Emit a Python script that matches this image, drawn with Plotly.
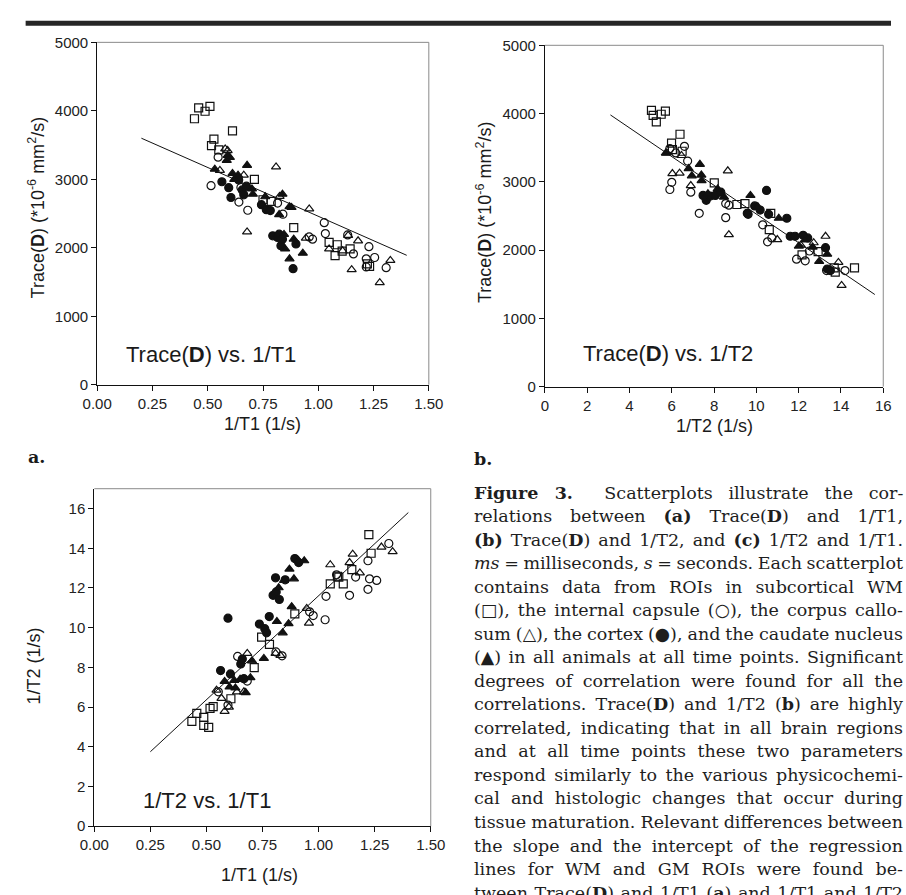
import json
import plotly.graph_objects as go

W, H = 906, 895

# ---------------- panel a: Trace(D) vs 1/T1 ----------------
a_wm_x = [0.440, 0.459, 0.488, 0.510, 0.612, 0.528, 0.517, 0.550, 0.711, 0.750, 0.787, 0.889,
          1.049, 1.086, 1.076, 1.144, 1.108, 1.232, 1.222]
a_wm_y = [3884, 4042, 3994, 4066, 3707, 3587, 3491, 3429, 2998, 2701, 2677, 2294,
          2078, 2044, 1886, 1983, 1950, 1729, 1765]
a_ic_x = [0.515, 0.547, 0.641, 0.681, 0.816, 0.840, 1.027, 1.032, 0.959, 0.974, 1.159, 1.133,
          1.229, 1.255, 1.217, 1.217, 1.307, 0.650]
a_ic_y = [2907, 3323, 2668, 2548, 2653, 2490, 2366, 2208, 2159, 2126, 1911, 2188,
          2016, 1858, 1839, 1719, 1710, 2880]
a_cc_x = [0.555, 0.579, 0.590, 0.663, 0.809, 0.678, 0.825, 0.959, 0.944, 1.049, 1.180, 1.151,
          1.278, 1.326, 1.110, 1.135]
a_cc_y = [3130, 3443, 3420, 3060, 3180, 2232, 2750, 2567, 2141, 1983, 2102, 1681,
          1490, 1815, 1955, 2180]
a_cx_x = [0.564, 0.595, 0.605, 0.656, 0.663, 0.743, 0.765, 0.783, 0.794, 0.816, 0.831, 0.823,
          0.838, 0.899, 0.886, 0.640, 0.675]
a_cx_y = [2964, 2878, 2734, 2845, 2773, 2629, 2557, 2543, 2174, 2150, 2030, 2198,
          2126, 2055, 1695, 2990, 2900]
a_cn_x = [0.532, 0.586, 0.600, 0.612, 0.637, 0.678, 0.704, 0.760, 0.823, 0.838, 0.879, 0.870,
          0.845, 0.850, 0.870, 0.930, 0.889, 0.590, 0.620, 0.700]
a_cn_y = [3147, 3276, 3320, 3085, 3060, 3204, 2783, 2745, 2485, 2783, 2590, 2600,
          2195, 1983, 1839, 1921, 2126, 3348, 3000, 2860]
a_fit_x = [0.20, 1.40]
a_fit_y = [3600, 1890]

# ---------------- panel b: Trace(D) vs 1/T2 ----------------
b_wm_x = [5.04, 5.12, 5.27, 5.50, 5.70, 6.39, 5.99, 6.03, 6.49, 8.01, 9.08, 9.46,
          10.68, 10.61, 12.92, 12.16, 13.68, 14.64, 13.73]
b_wm_y = [4047, 3975, 3879, 3990, 4037, 3697, 3568, 3472, 3448, 2984, 2668, 2682,
          2539, 2299, 1978, 1930, 1739, 1739, 1677]
b_ic_x = [6.60, 6.75, 6.00, 5.91, 6.90, 7.30, 8.55, 8.55, 8.70, 5.91, 6.19, 10.30,
          10.73, 10.53, 11.90, 12.31, 13.32, 14.19, 12.51]
b_ic_y = [3520, 3305, 2993, 2888, 2849, 2539, 2476, 2682, 2658, 3487, 3424, 2371,
          2179, 2122, 1868, 1844, 1700, 1700, 1987]
b_cc_x = [5.77, 6.03, 6.37, 6.90, 8.65, 8.70, 6.46, 10.99, 13.27, 13.88, 14.03, 12.71, 12.10]
b_cc_y = [3424, 3122, 3128, 2945, 3161, 2227, 3386, 2155, 2203, 1820, 1484, 2108, 2073]
b_cx_x = [7.63, 7.82, 8.06, 8.32, 9.57, 7.48, 10.48, 9.61, 9.92, 10.18, 10.58, 11.44,
          11.60, 11.83, 12.43, 12.21, 13.27, 13.35, 13.50]
b_cx_y = [2730, 2792, 2802, 2849, 2539, 2802, 2874, 2524, 2648, 2586, 2524, 2467,
          2203, 2203, 2179, 2217, 2036, 1724, 1700]
b_cn_x = [6.80, 7.33, 7.41, 6.95, 7.71, 8.17, 8.47, 9.72, 11.06, 12.01, 12.66, 12.97,
          13.35, 10.07, 5.72, 7.40, 12.30]
b_cn_y = [3194, 3257, 3017, 3089, 2826, 2897, 2777, 2802, 2467, 2059, 2045, 1835,
          1940, 2634, 3421, 3100, 2150]
b_fit_x = [3.1, 15.6]
b_fit_y = [3980, 1350]

# ---------------- panel c: 1/T2 vs 1/T1 ----------------
c_wm_x = [0.435, 0.457, 0.488, 0.488, 0.510, 0.516, 0.530, 0.609, 0.713, 0.746, 0.781, 0.894,
          1.052, 1.084, 1.110, 1.148, 1.224, 1.234, 1.090]
c_wm_y = [5.28, 5.68, 5.48, 5.08, 4.98, 5.93, 6.02, 6.42, 7.99, 9.52, 9.16, 10.69,
          12.21, 12.59, 12.21, 12.92, 14.69, 13.75, 12.55]
c_ic_x = [0.639, 0.682, 0.596, 0.810, 0.837, 0.976, 1.033, 1.029, 1.138, 1.165, 1.220, 1.220,
          1.227, 1.259, 1.313, 1.080, 0.553, 0.960]
c_ic_y = [8.55, 7.31, 6.10, 8.78, 8.58, 10.61, 11.58, 10.40, 11.63, 12.55, 13.37, 11.93,
          12.46, 12.38, 14.24, 12.66, 6.77, 10.80]
c_cc_x = [0.545, 0.567, 0.581, 0.636, 0.682, 0.667, 0.808, 0.947, 0.957, 1.052, 1.138, 1.152,
          1.184, 1.280, 1.330, 0.600, 0.830]
c_cc_y = [6.85, 6.44, 5.78, 6.77, 8.70, 6.77, 8.70, 10.97, 10.23, 13.17, 13.28, 13.70,
          12.76, 14.06, 13.83, 6.00, 8.60]
c_cx_x = [0.563, 0.596, 0.607, 0.736, 0.760, 0.768, 0.780, 0.808, 0.797, 0.811, 0.825, 0.851,
          0.894, 0.911, 0.653, 0.660, 0.667]
c_cx_y = [7.84, 10.48, 7.67, 10.18, 9.95, 9.74, 10.56, 12.51, 11.63, 11.80, 11.42, 12.41,
          13.48, 13.28, 8.17, 8.42, 7.43]
c_cn_x = [0.581, 0.603, 0.624, 0.675, 0.696, 0.703, 0.756, 0.814, 0.840, 0.866, 0.880, 0.822,
          0.846, 0.890, 0.870, 0.911, 0.936, 0.629, 0.650]
c_cn_y = [7.29, 7.01, 7.34, 6.73, 7.48, 8.33, 8.45, 10.31, 9.74, 10.20, 11.06, 12.01,
          12.38, 12.46, 12.95, 13.37, 13.37, 6.96, 7.40]
c_fit_x = [0.25, 1.40]
c_fit_y = [3.75, 15.80]

# axis ticks
t1_ticks = [0.00, 0.25, 0.50, 0.75, 1.00, 1.25, 1.50]
t2_ticks = [0, 2, 4, 6, 8, 10, 12, 14, 16]
trace_ticks = [0, 1000, 2000, 3000, 4000, 5000]
r2_ticks = [0, 2, 4, 6, 8, 10, 12, 14, 16]

caption_lines = [
    "<b>Figure 3.</b>  Scatterplots illustrate the cor-",
    "relations between <b>(a)</b> Trace(<b>D</b>) and 1/T1,",
    "<b>(b)</b> Trace(<b>D</b>) and 1/T2, and <b>(c)</b> 1/T2 and 1/T1.",
    "<i>ms</i> = milliseconds, <i>s</i> = seconds. Each scatterplot",
    "contains data from ROIs in subcortical WM",
    "(□), the internal capsule (○), the corpus callo-",
    "sum (△), the cortex (●), and the caudate nucleus",
    "(▲) in all animals at all time points. Significant",
    "degrees of correlation were found for all the",
    "correlations. Trace(<b>D</b>) and 1/T2 (<b>b</b>) are highly",
    "correlated, indicating that in all brain regions",
    "and at all time points these two parameters",
    "respond similarly to the various physicochemi-",
    "cal and histologic changes that occur during",
    "tissue maturation. Relevant differences between",
    "the slope and the intercept of the regression",
    "lines for WM and GM ROIs were found be-",
    "tween Trace(<b>D</b>) and 1/T1 (<b>a</b>) and 1/T1 and 1/T2",
]

INK = "#111111"
SANS = "Liberation Sans, Arial, sans-serif"
SERIF = "DejaVu Serif, serif"


def px_x(v):
    return v / W


def px_y(v):
    return 1 - v / H


fig = go.Figure()

panels = [
    ("x", "y", [(a_wm_x, a_wm_y), (a_ic_x, a_ic_y), (a_cc_x, a_cc_y), (a_cx_x, a_cx_y), (a_cn_x, a_cn_y)], (a_fit_x, a_fit_y)),
    ("x2", "y2", [(b_wm_x, b_wm_y), (b_ic_x, b_ic_y), (b_cc_x, b_cc_y), (b_cx_x, b_cx_y), (b_cn_x, b_cn_y)], (b_fit_x, b_fit_y)),
    ("x3", "y3", [(c_wm_x, c_wm_y), (c_ic_x, c_ic_y), (c_cc_x, c_cc_y), (c_cx_x, c_cx_y), (c_cn_x, c_cn_y)], (c_fit_x, c_fit_y)),
]
region_names = ["subcortical WM", "internal capsule", "corpus callosum", "cortex", "caudate nucleus"]
region_symbols = ["square-open", "circle-open", "triangle-up-open", "circle", "triangle-up"]

for xa, ya, groups, fit in panels:
    fig.add_trace(go.Scatter(x=fit[0], y=fit[1], mode="lines", xaxis=xa, yaxis=ya,
                             line=dict(color=INK, width=1), showlegend=False, hoverinfo="skip"))
    for (gx, gy), name, sym in zip(groups, region_names, region_symbols):
        fig.add_trace(go.Scatter(
            x=gx, y=gy, mode="markers", name=name, xaxis=xa, yaxis=ya, showlegend=False,
            marker=dict(symbol=sym, size=8, color=INK, line=dict(color=INK, width=1.2)),
        ))

# plot-area boxes in pixels: (left, right, top, bottom)
box_a = (85, 428, 34, 383)
box_b = (548, 898, 37, 385)
box_c = (82, 430, 489, 833)


def axis(box, horiz, rng, ticks, fmt):
    dom = [px_x(box[0]), px_x(box[1])] if horiz else [px_y(box[3]), px_y(box[2])]
    return dict(
        domain=dom, range=rng, tickvals=ticks, ticktext=[fmt.format(t) for t in ticks],
        ticks="outside", ticklen=5, tickwidth=1, tickcolor=INK,
        showline=True, linecolor=INK, linewidth=1, showgrid=False, zeroline=False,
        tickfont=dict(family=SANS, size=15, color="#222222"), fixedrange=True,
    )


fig.update_layout(
    width=W, height=H, margin=dict(l=0, r=0, t=0, b=0),
    paper_bgcolor="white", plot_bgcolor="white", showlegend=False,
    xaxis=dict(axis(box_a, True, [0, 1.5], t1_ticks, "{:.2f}"), anchor="y"),
    yaxis=dict(axis(box_a, False, [0, 5000], trace_ticks, "{:d}"), anchor="x"),
    xaxis2=dict(axis(box_b, True, [0, 16], t2_ticks, "{:d}"), anchor="y2"),
    yaxis2=dict(axis(box_b, False, [0, 5000], trace_ticks, "{:d}"), anchor="x2"),
    xaxis3=dict(axis(box_c, True, [0, 1.5], t1_ticks, "{:.2f}"), anchor="y3"),
    yaxis3=dict(axis(box_c, False, [0, 17], r2_ticks, "{:d}"), anchor="x3"),
)

shapes = []
# heavy rule across the top of the page
shapes.append(dict(type="rect", xref="paper", yref="paper", x0=px_x(11), x1=1.0,
                   y0=px_y(17), y1=px_y(12), fillcolor="#262626", line=dict(width=0)))
# light top/right frame of each plot
for l, r, t, b in (box_a, box_b, box_c):
    shapes.append(dict(type="line", xref="paper", yref="paper", x0=px_x(l), x1=px_x(r),
                       y0=px_y(t), y1=px_y(t), line=dict(color="#8a8a8a", width=1)))
    shapes.append(dict(type="line", xref="paper", yref="paper", x0=px_x(r), x1=px_x(r),
                       y0=px_y(t), y1=px_y(b), line=dict(color="#8a8a8a", width=1)))
fig.update_layout(shapes=shapes)

ann = []


def text(x, y, s, size, family=SANS, angle=0, xanchor="center", color="#1a1a1a", align="center"):
    ann.append(dict(x=px_x(x), y=px_y(y), xref="paper", yref="paper", text=s, showarrow=False,
                    xanchor=xanchor, yanchor="middle", textangle=angle, align=align,
                    font=dict(family=family, size=size, color=color)))
    return len(ann) - 1


ytitle_trace = "Trace(<b>D</b>) (*10<sup>-6</sup> mm<sup>2</sup>/s)"
text(22, 202, ytitle_trace, 18, angle=-90)
text(256, 423, "1/T1 (1/s)", 18)
text(485, 207, ytitle_trace, 18, angle=-90)
text(723, 425, "1/T2 (1/s)", 18)
text(20, 670, "1/T2 (1/s)", 18, angle=-90)
text(253, 883, "1/T1 (1/s)", 18)

text(113, 352, "Trace(<b>D</b>) vs. 1/T1", 22, xanchor="left")
text(585, 351, "Trace(<b>D</b>) vs. 1/T2", 22, xanchor="left")
text(130, 807, "1/T2 vs. 1/T1", 22, xanchor="left")

text(11, 457, "<b>a.</b>", 17.5, family=SERIF, xanchor="left")
text(473, 459, "<b>b.</b>", 17.5, family=SERIF, xanchor="left")

caption_idx = []
for i, line in enumerate(caption_lines):
    caption_idx.append(text(473, 493.3 + i * 23.96, line, 17.5, family=SERIF,
                            xanchor="left", color="#1e1e1e", align="left"))

fig.update_layout(annotations=ann)

# justify the caption column: adjust word spacing so every line spans the column
column_width = 429
justify_js = """
var gd = document.getElementById('{plot_id}');
var idx = %s;
var target = %s;
gd.querySelectorAll('g.annotation').forEach(function (g) {
  var i = parseInt(g.getAttribute('data-index'));
  if (idx.indexOf(i) < 0) return;
  var t = g.querySelector('text.annotation-text');
  if (!t) return;
  var n = t.textContent.trim().split(/\\s+/).length - 1;
  if (n < 1) return;
  for (var k = 0; k < 3; k++) {
    var w = t.getBBox().width;
    var cur = parseFloat(t.style.wordSpacing) || 0;
    t.style.wordSpacing = (cur + (target - w) / n) + 'px';
  }
});
""" % (json.dumps(caption_idx), column_width)

fig.write_html("out.html", post_script=justify_js)
